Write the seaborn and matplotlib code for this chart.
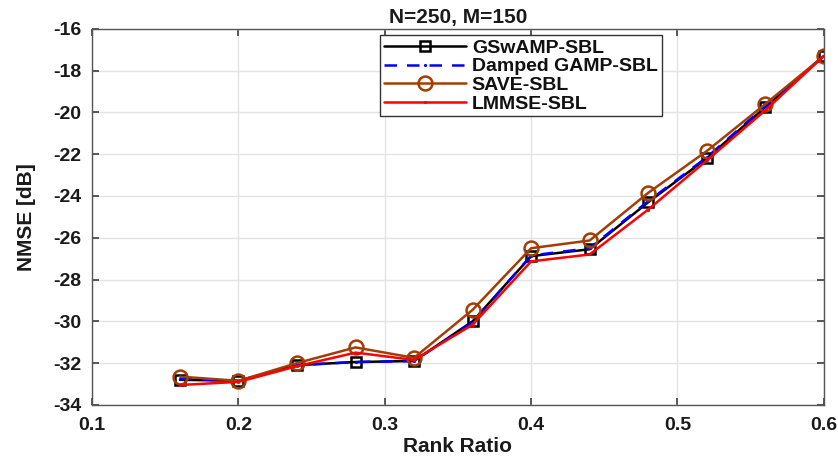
import matplotlib
matplotlib.use("Agg")
import matplotlib.pyplot as plt
import seaborn as sns
import pandas as pd

rank_ratio = [0.16, 0.20, 0.24, 0.28, 0.32, 0.36, 0.40, 0.44, 0.48, 0.52, 0.56, 0.60]
gswamp = [-32.80, -32.85, -32.10, -31.95, -31.90, -30.00, -26.88, -26.55, -24.30, -22.20, -19.75, -17.30]
damped = [-32.75, -32.85, -32.10, -31.95, -31.90, -30.05, -26.85, -26.50, -24.25, -22.15, -19.70, -17.30]
save = [-32.65, -32.85, -32.00, -31.25, -31.75, -29.45, -26.50, -26.13, -23.85, -21.85, -19.60, -17.30]
lmmse = [-33.05, -32.90, -32.15, -31.50, -31.85, -30.16, -27.13, -26.80, -24.65, -22.30, -19.90, -17.30]

sns.set_theme(style="whitegrid")
plt.rcParams['font.family'] = ['Liberation Sans', 'DejaVu Sans']
plt.rcParams['font.weight'] = 'bold'
plt.rcParams['axes.unicode_minus'] = False
plt.rcParams['text.color'] = '#1a1a1a'
plt.rcParams['axes.labelcolor'] = '#1a1a1a'
plt.rcParams['xtick.labelcolor'] = '#1a1a1a'
plt.rcParams['ytick.labelcolor'] = '#1a1a1a'

fig, ax = plt.subplots(figsize=(8.38, 4.59), dpi=100)

brown = '#A33D05'
styles = [
    ("GSwAMP-SBL", gswamp, dict(color='black', marker='s', markersize=7, markerfacecolor='none',
                                 markeredgecolor='black', markeredgewidth=1.8, linewidth=1.8)),
    ("Damped GAMP-SBL", damped, dict(color='blue', linestyle=(0, (5, 4)), linewidth=1.8,
                                      marker='.', markersize=3, markeredgecolor='blue')),
    ("SAVE-SBL", save, dict(color=brown, marker='o', markersize=10, markerfacecolor='none',
                             markeredgecolor=brown, markeredgewidth=1.8, linewidth=1.8)),
    ("LMMSE-SBL", lmmse, dict(color='red', marker='.', markersize=3, markeredgecolor='red',
                               linewidth=1.8)),
]
for name, vals, kw in styles:
    df = pd.DataFrame({"x": rank_ratio, "y": vals})
    sns.lineplot(data=df, x="x", y="y", ax=ax, label=name, **kw)

ax.set_xlim(0.1, 0.6)
ax.set_ylim(-34, -16)
ax.set_xticks([0.1, 0.2, 0.3, 0.4, 0.5, 0.6])
ax.set_xticklabels(['0.1', '0.2', '0.3', '0.4', '0.5', '0.6'])
ax.set_yticks(range(-34, -15, 2))
ax.tick_params(axis='both', labelsize=14, direction='in', length=5, color='#444444',
               top=True, right=True, bottom=True, left=True)
ax.tick_params(axis='x', pad=9)
ax.tick_params(axis='y', pad=8)
for lbl in ax.get_xticklabels() + ax.get_yticklabels():
    lbl.set_fontweight('bold')
ax.grid(True, color='#e3e3e3', linewidth=1)
for s in ax.spines.values():
    s.set_color('#555555')
    s.set_linewidth(1)

ax.set_xlabel("Rank Ratio", fontsize=15, fontweight='bold', labelpad=2)
ax.set_ylabel("NMSE [dB]", fontsize=15, fontweight='bold', labelpad=12)
ax.set_title("N=250, M=150", fontsize=15, fontweight='bold', pad=4)

leg = ax.legend(loc='upper left', bbox_to_anchor=(0.394, 0.983), fontsize=14, frameon=True,
                fancybox=False, edgecolor='#333333', framealpha=1, handlelength=4.2,
                borderpad=0.2, labelspacing=0.05, handletextpad=0.3, borderaxespad=0)
leg.get_frame().set_linewidth(1)
for t in leg.get_texts():
    t.set_fontweight('bold')
    t.set_color('#111111')

fig.subplots_adjust(left=0.11, right=0.983, top=0.937, bottom=0.118)
fig.savefig("out.png", dpi=100)
